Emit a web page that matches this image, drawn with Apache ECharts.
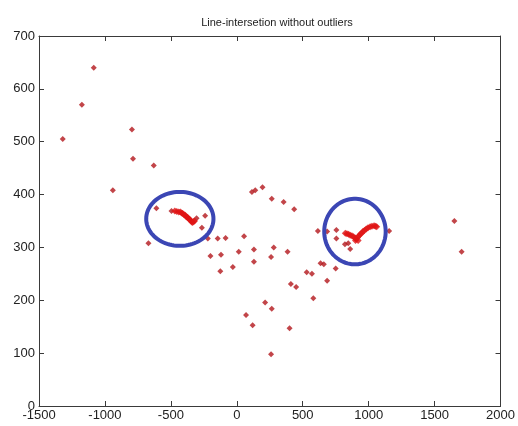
<!DOCTYPE html>
<html>
<head>
<meta charset="utf-8">
<script src="https://cdn.jsdelivr.net/npm/echarts@6/dist/echarts.min.js"></script>
<style>html,body{margin:0;padding:0;background:#fff;}#c{width:518px;height:426px;}</style>
</head>
<body>
<div id="c"></div>
<script>
const titleText = 'Line-intersetion without outliers';
const xTicks = [-1500, -1000, -500, 0, 500, 1000, 1500, 2000];
const yTicks = [0, 100, 200, 300, 400, 500, 600, 700];

// scattered intersection points [x, y]
const scatterPoints = [
  [-1320, 505], [-1175, 570], [-1085, 640], [-795, 523], [-787, 468], [-630, 455],
  [-940, 408], [-610, 374], [-670, 308], [-495, 369],
  [-305, 355], [-240, 360], [-265, 337], [-220, 317], [-145, 317], [-85, 318],
  [-200, 284], [-120, 286], [-125, 255], [-30, 263], [15, 292], [55, 321],
  [130, 296], [130, 273], [70, 172], [120, 153], [215, 196], [265, 184],
  [400, 147], [260, 98], [280, 300], [260, 282], [385, 292], [410, 231],
  [450, 225], [530, 253], [570, 250], [580, 204], [635, 270], [660, 268],
  [685, 237], [615, 331], [685, 330], [755, 333], [755, 317], [750, 260],
  [820, 306], [845, 308], [860, 297], [1155, 331],
  [115, 405], [140, 408], [195, 414], [265, 392], [355, 386], [435, 372],
  [1650, 350], [1705, 292]
];
// dense cluster near the left circle
const leftCluster = [
  [-470, 369], [-455, 368], [-440, 367], [-428, 367], [-418, 365], [-410, 364],
  [-400, 362], [-391, 361], [-383, 358], [-376, 357], [-371, 356], [-362, 354],
  [-353, 352], [-347, 350], [-341, 348], [-335, 347], [-328, 349], [-321, 350]
];
// dense cluster near the right circle
const rightCluster = [
  [823, 327], [835, 326], [848, 325], [860, 323], [873, 322], [885, 320],
  [898, 318], [905, 316], [900, 313], [916, 319], [920, 313], [926, 322],
  [936, 325], [946, 327], [956, 330], [968, 332], [981, 335], [995, 337],
  [1011, 339], [1025, 340], [1041, 341], [1052, 340], [1061, 339]
];
// highlight ellipses [centerX, centerY, radiusX, radiusY] in data units
const circles = [
  [-432, 354, 255, 51],
  [896, 330, 233, 62]
];

const chart = echarts.init(document.getElementById('c'), null, {renderer: 'canvas'});
const font = 'Liberation Sans, Arial, sans-serif';
const axisLine = {show: true, onZero: false, lineStyle: {color: '#3a3a3a', width: 1}};
const axisTick = {show: true, inside: true, length: 5, lineStyle: {color: '#3a3a3a'}};
const markerColor = '#b3161c';
const plain = v => String(v);

chart.setOption({
  animation: false,
  backgroundColor: '#ffffff',
  title: {
    text: titleText, left: 272, top: 12, textAlign: 'center',
    textStyle: {fontFamily: font, fontSize: 11, fontWeight: 'normal', color: '#222'}
  },
  grid: {left: 39, right: 13, top: 36, bottom: 20, containLabel: false},
  xAxis: [
    {type: 'value', min: xTicks[0], max: xTicks[xTicks.length - 1], interval: 500, position: 'bottom',
     axisLine, axisTick, splitLine: {show: false},
     axisLabel: {fontFamily: font, fontSize: 13, color: '#222', margin: 3, formatter: plain}},
    {type: 'value', min: xTicks[0], max: xTicks[xTicks.length - 1], interval: 500, position: 'top',
     axisLine, axisTick, splitLine: {show: false}, axisLabel: {show: false}}
  ],
  yAxis: [
    {type: 'value', min: yTicks[0], max: yTicks[yTicks.length - 1], interval: 100, position: 'left',
     axisLine, axisTick, splitLine: {show: false},
     axisLabel: {fontFamily: font, fontSize: 13, color: '#222', margin: 4, formatter: plain}},
    {type: 'value', min: yTicks[0], max: yTicks[yTicks.length - 1], interval: 100, position: 'right',
     axisLine, axisTick, splitLine: {show: false}, axisLabel: {show: false}}
  ],
  series: [
    {type: 'scatter', data: scatterPoints, symbol: 'diamond', symbolSize: 6,
     itemStyle: {color: markerColor}},
    {type: 'scatter', data: leftCluster, symbol: 'diamond', symbolSize: 7,
     itemStyle: {color: '#e01414'}},
    {type: 'scatter', data: rightCluster, symbol: 'diamond', symbolSize: 7,
     itemStyle: {color: '#e01414'}},
    {type: 'custom', data: circles, z: 5,
     renderItem: function (params, api) {
       const c = api.coord([api.value(0), api.value(1)]);
       const s = api.size([api.value(2), api.value(3)]);
       const pts = [];
       for (let i = 0; i < 90; i++) {
         const a = i / 90 * Math.PI * 2;
         pts.push([c[0] + s[0] * Math.cos(a), c[1] + s[1] * Math.sin(a)]);
       }
       return {type: 'polygon', shape: {points: pts},
               style: {fill: 'none', stroke: '#3b46b4', lineWidth: 4}};
     }}
  ]
});
</script>
</body>
</html>
